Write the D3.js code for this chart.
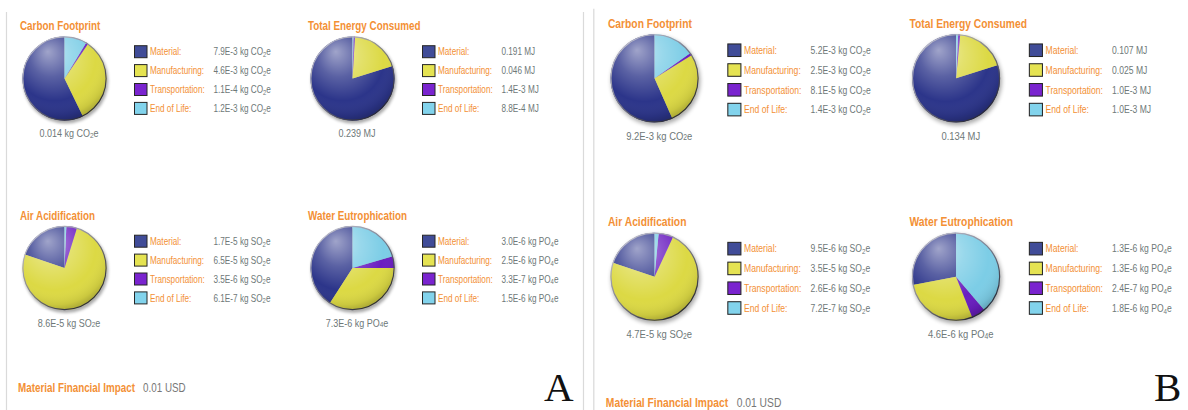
<!DOCTYPE html>
<html><head><meta charset="utf-8">
<script src="https://cdn.jsdelivr.net/npm/d3@7"></script>
<style>
html,body{margin:0;padding:0;background:#fff;}
svg{display:block;}
</style></head><body>
<svg id="chart" width="1188" height="410"></svg>
<script>
// Life-cycle phases shown in every pie and legend
const categories = ["Material:", "Manufacturing:", "Transportation:", "End of Life:"];
const metrics = ["Carbon Footprint", "Total Energy Consumed", "Air Acidification", "Water Eutrophication"];
const units = [
  {main: "kg CO", sub: "2", tail: "e"},
  {main: "MJ"},
  {main: "kg SO", sub: "2", tail: "e"},
  {main: "kg PO", sub: "4", tail: "e"}
];

// Design A
const carbonA = [7.9e-3, 4.6e-3, 1.1e-4, 1.2e-3];
const energyA = [0.191, 0.046, 1.4e-3, 8.8e-4];
const airA    = [1.7e-5, 6.5e-5, 3.5e-6, 6.1e-7];
const waterA  = [3.0e-6, 2.5e-6, 3.3e-7, 1.5e-6];
const totalsA = [0.014, 0.239, 8.6e-5, 7.3e-6];

// Design B
const carbonB = [5.2e-3, 2.5e-3, 8.1e-5, 1.4e-3];
const energyB = [0.107, 0.025, 1.0e-3, 1.0e-3];
const airB    = [9.5e-6, 3.5e-5, 2.6e-6, 7.2e-7];
const waterB  = [1.3e-6, 1.3e-6, 2.4e-7, 1.8e-6];
const totalsB = [9.2e-3, 0.134, 4.7e-5, 4.6e-6];

const financialA = "0.01 USD";
const financialB = "0.01 USD";

const pieColors    = ["#2c358a", "#dcd944", "#6a1ec0", "#7ccde6"];
const swatchColors = ["#404c98", "#e5e352", "#7a24cf", "#82d3ec"];
const ORANGE = "#f39035", GRAY = "#6e7878", BORDER = "#dadada";
const SX = 0.82;               // horizontal squeeze for the narrow sans face
const FONT = "'Liberation Sans', Arial, sans-serif";

const svg = d3.select("#chart");
const defs = svg.append("defs");

const gloss = defs.append("radialGradient").attr("id", "gloss")
  .attr("cx", 0.42).attr("cy", 0.32).attr("r", 0.72).attr("fx", 0.3).attr("fy", 0.18);
[[0, "#fff", 0.55], [0.35, "#fff", 0.22], [0.68, "#fff", 0], [0.88, "#000", 0.08], [1, "#000", 0.28]]
  .forEach(([o, c, a]) => gloss.append("stop").attr("offset", o).attr("stop-color", c).attr("stop-opacity", a));

const rim = defs.append("linearGradient").attr("id", "rim")
  .attr("x1", 0).attr("y1", 0).attr("x2", 0.8).attr("y2", 1);
[[0, "#d4d4e0"], [0.45, "#8a8a9a"], [1, "#1e1e2a"]]
  .forEach(([o, c]) => rim.append("stop").attr("offset", o).attr("stop-color", c));

defs.append("filter").attr("id", "soft").attr("x", "-30%").attr("y", "-30%").attr("width", "160%").attr("height", "160%")
  .append("feGaussianBlur").attr("stdDeviation", 1.8);

const fmt = v => v >= 0.01 ? v.toFixed(3) : v.toExponential(1).toUpperCase().replace("E+", "E");

// text squeezed horizontally to imitate a condensed face
function ntext(parent, x, y, size, opts = {}) {
  const g = parent.append("g").attr("transform", `translate(${x},${y}) scale(${SX},1)`);
  return g.append("text")
    .attr("font-family", FONT)
    .attr("font-size", size)
    .attr("font-weight", opts.bold ? "bold" : "normal")
    .attr("fill", opts.fill || ORANGE)
    .attr("text-anchor", opts.anchor || "start");
}

function appendValue(t, v, unit, subShift) {
  t.append("tspan").text(fmt(v) + " " + unit.main);
  if (unit.sub) {
    t.append("tspan").attr("font-size", "0.72em").attr("dy", subShift).text(unit.sub);
    t.append("tspan").attr("dy", -subShift).text(unit.tail);
  }
}

const R = 42;
const colX = [0, 288], rowY = [0, 189.5];
const pie = d3.pie().sort(null).startAngle(0).endAngle(-2 * Math.PI);
const arc = d3.arc().innerRadius(0).outerRadius(R);

function drawPanel(g, series, totals, financial) {
  g.append("line").attr("x1", 6.5).attr("x2", 6.5).attr("y1", 12).attr("y2", 440)
    .attr("stroke", BORDER).attr("stroke-width", 1.2);
  g.append("line").attr("x1", 583.5).attr("x2", 583.5).attr("y1", 12).attr("y2", 440)
    .attr("stroke", BORDER).attr("stroke-width", 1.2);

  metrics.forEach((m, i) => {
    const s = g.append("g")
      .attr("transform", `translate(${colX[i % 2]},${rowY[Math.floor(i / 2)]})`);
    ntext(s, 20, 30, 12, {bold: true}).text(m);

    const p = s.append("g").attr("transform", "translate(64.5,78.5)");
    p.append("circle").attr("cx", 1.2).attr("cy", 2.4).attr("r", R + 0.6)
      .attr("fill", "#000").attr("opacity", 0.33).attr("filter", "url(#soft)");
    p.selectAll("path.slice").data(pie(series[i])).join("path")
      .attr("class", "slice")
      .attr("d", arc)
      .attr("fill", (d, j) => pieColors[j]);
    p.append("circle").attr("r", R).attr("fill", "url(#gloss)");
    p.append("circle").attr("r", R - 0.4).attr("fill", "none")
      .attr("stroke", "url(#rim)").attr("stroke-width", 1.1);

    categories.forEach((c, j) => {
      const cy = 51.7 + j * 18.9;
      s.append("rect").attr("x", 134.5).attr("y", cy - 6).attr("width", 12.5).attr("height", 12)
        .attr("fill", swatchColors[j]).attr("stroke", "#262626").attr("stroke-width", 1);
      ntext(s, 150, cy + 3.6, 10).text(c);
      appendValue(ntext(s, 213.5, cy + 3.6, 10, {fill: GRAY}), series[i][j], units[i], 1.8);
    });

    appendValue(ntext(s, 69, 137, 11, {fill: GRAY, anchor: "middle"}), totals[i], units[i], 0.8);
  });

  ntext(g, 18, 392, 12, {bold: true}).text("Material Financial Impact");
  ntext(g, 143, 392, 12, {fill: "#777"}).text(financial);
}

drawPanel(svg.append("g"), [carbonA, energyA, airA, waterA], totalsA, financialA);
drawPanel(svg.append("g").attr("transform", "translate(587,-3.9) scale(1.047)"),
  [carbonB, energyB, airB, waterB], totalsB, financialB);

// design letters in the lower right corners
const serif = "'Liberation Serif', 'Times New Roman', serif";
svg.append("text").attr("x", 544).attr("y", 401).attr("font-family", serif)
  .attr("font-size", 41).attr("fill", "#111").text("A");
svg.append("text").attr("x", 1154).attr("y", 401).attr("font-family", serif)
  .attr("font-size", 41).attr("fill", "#111").text("B");
</script>
</body></html>
